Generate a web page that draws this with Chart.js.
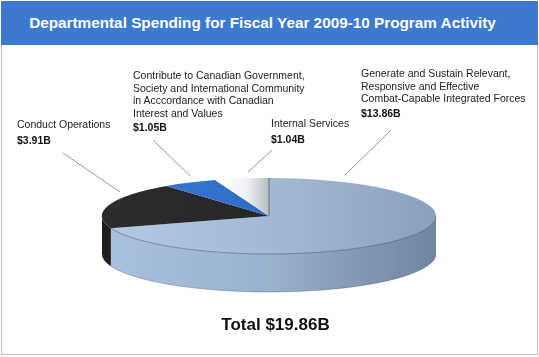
<!DOCTYPE html>
<html>
<head>
<meta charset="utf-8">
<script src="https://cdn.jsdelivr.net/npm/chart.js@4/dist/chart.umd.min.js"></script>
<style>
  html, body { margin: 0; padding: 0; background: #fff; }
  #wrap { position: relative; width: 539px; height: 357px; overflow: hidden; font-family: "Liberation Sans", Arial, Helvetica, sans-serif; }
  #frame { position: absolute; left: 1px; top: 1px; width: 535px; height: 353px; border: 1px solid #c4c4c4; border-top: none; }
  #title { position: absolute; left: 1px; top: 1px; width: 537px; height: 44px; background: #3d79cf; color: #fff; font-weight: bold; font-size: 15.3px; line-height: 44px; text-align: center; }
  #title span { position: relative; left: -7px; }
  canvas { position: absolute; left: 0; top: 0; }
  .lbl { position: absolute; font-size: 10.5px; line-height: 12.5px; color: #222; white-space: nowrap; }
  .val { position: absolute; font-size: 10.5px; font-weight: bold; color: #111; white-space: nowrap; }
  #total { position: absolute; left: 6px; width: 539px; top: 315px; text-align: center; font-size: 17px; font-weight: bold; color: #111; }
</style>
</head>
<body>
<div id="wrap">
  <div id="frame"></div>
  <div id="title"><span>Departmental Spending for Fiscal Year 2009-10 Program Activity</span></div>
  <canvas id="c" width="539" height="357"></canvas>
  <div id="labels"></div>
  <div id="total"></div>
</div>
<script>
// ---- data ----
const categories = [
  "Generate and Sustain Relevant,\nResponsive and Effective\nCombat-Capable Integrated Forces",
  "Conduct Operations",
  "Contribute to Canadian Government,\nSociety and International Community\nin Acccordance with Canadian\nInterest and Values",
  "Internal Services"
];
const spending = [13.86, 3.91, 1.05, 1.04];   // $ billions
const valueLabels = ["$13.86B", "$3.91B", "$1.05B", "$1.04B"];
const totalLabel = "Total $19.86B";

// label placement (layout only)
const labelPos = [
  {x: 361, y: 67, vy: 107},
  {x: 17,  y: 118, vy: 134},
  {x: 133, y: 69, vy: 121},
  {x: 271, y: 117, vy: 133}
];
const leaders = [
  [391, 130, 345, 175],
  [63, 153, 120, 192],
  [153, 140, 190, 176],
  [272, 150, 248, 172]
];

const labelsDiv = document.getElementById('labels');
categories.forEach((c, i) => {
  const d = document.createElement('div');
  d.className = 'lbl';
  d.style.left = labelPos[i].x + 'px';
  d.style.top = labelPos[i].y + 'px';
  d.innerHTML = c.split('\n').join('<br>');
  labelsDiv.appendChild(d);
  const v = document.createElement('div');
  v.className = 'val';
  v.style.left = labelPos[i].x + 'px';
  v.style.top = labelPos[i].vy + 'px';
  v.textContent = valueLabels[i];
  labelsDiv.appendChild(v);
});
document.getElementById('total').textContent = totalLabel;

// 3D look
const TARGET_CY = 216;   // centre of top face in page
const RY = 38;           // vertical radius of ellipse
const DEPTH = 38;

const topColors = [
  ['#b4c9e4', '#a3b9d6', '#8aa0bc'],
  ['#2c2c2c', '#262626', '#1f1f1f'],
  ['#3a79d3', '#2f6cc6', '#295fb2'],
  null
];
const sideColors = [
  ['#aac2e0', '#9ab1ce', '#6f849e'],
  ['#1e1e1e', '#1a1a1a', '#161616'],
  ['#2a5fb0', '#2a5fb0', '#2a5fb0'],
  ['#c9ccd2', '#c9ccd2', '#c9ccd2']
];

function hGrad(ctx, x0, x1, stops) {
  const g = ctx.createLinearGradient(x0, 0, x1, 0);
  g.addColorStop(0, stops[0]);
  g.addColorStop(0.5, stops[1]);
  g.addColorStop(1, stops[2]);
  return g;
}

const pie3d = {
  id: 'pie3d',
  beforeDatasetsDraw(chart) {
    const ctx = chart.ctx;
    const arcs = chart.getDatasetMeta(0).data;
    if (!arcs.length) return;
    const cx = arcs[0].x, cy0 = arcs[0].y, rx = arcs[0].outerRadius;
    const k = RY / rx;
    const cy = TARGET_CY;
    // side walls
    arcs.forEach((a, i) => {
      let s = Math.max(a.startAngle, 0), e = Math.min(a.endAngle, Math.PI);
      if (e <= s) return;
      ctx.save();
      ctx.beginPath();
      ctx.ellipse(cx, cy, rx, RY, 0, s, e, false);
      ctx.lineTo(cx + rx * Math.cos(e), cy + RY * Math.sin(e) + DEPTH);
      ctx.ellipse(cx, cy + DEPTH, rx, RY, 0, e, s, true);
      ctx.closePath();
      ctx.fillStyle = hGrad(ctx, cx - rx, cx + rx, sideColors[i]);
      ctx.fill();
      ctx.restore();
    });
    // bottom outline
    ctx.save();
    ctx.beginPath();
    ctx.ellipse(cx, cy + DEPTH, rx, RY, 0, 0, Math.PI, false);
    ctx.strokeStyle = 'rgba(80,95,115,0.5)';
    ctx.lineWidth = 0.8;
    ctx.stroke();
    ctx.restore();
    // transform for top face
    ctx.save();
    ctx.translate(0, cy);
    ctx.scale(1, k);
    ctx.translate(0, -cy0);
  },
  afterDatasetsDraw(chart) {
    const ctx = chart.ctx;
    const arcs = chart.getDatasetMeta(0).data;
    if (!arcs.length) return;
    ctx.restore();
    const cx = arcs[0].x, rx = arcs[0].outerRadius;
    const cy = TARGET_CY;
    // top face front rim
    ctx.save();
    ctx.beginPath();
    ctx.ellipse(cx, cy, rx, RY, 0, 0, Math.PI, false);
    ctx.strokeStyle = 'rgba(70,85,105,0.7)';
    ctx.lineWidth = 0.8;
    ctx.stroke();
    // vertical edge line at top (start of first slice)
    ctx.beginPath();
    ctx.moveTo(cx, cy);
    ctx.lineTo(cx, cy - RY);
    ctx.strokeStyle = 'rgba(90,90,100,0.8)';
    ctx.lineWidth = 1;
    ctx.stroke();
    // leader lines
    ctx.strokeStyle = '#8a8a8a';
    ctx.lineWidth = 0.9;
    leaders.forEach(l => {
      ctx.beginPath();
      ctx.moveTo(l[0], l[1]);
      ctx.lineTo(l[2], l[3]);
      ctx.stroke();
    });
    ctx.restore();
  }
};

new Chart(document.getElementById('c'), {
  type: 'pie',
  data: {
    labels: categories,
    datasets: [{
      data: spending,
      borderWidth: 0,
      backgroundColor: (context) => {
        const chart = context.chart;
        const area = chart.chartArea;
        const i = context.dataIndex;
        if (!area) return '#aac';
        const cx = (area.left + area.right) / 2;
        const r = (area.right - area.left) / 2;
        const ctx = chart.ctx;
        if (i === 3) {
          const g = ctx.createLinearGradient(cx - 45, 0, cx, 0);
          g.addColorStop(0, '#ffffff');
          g.addColorStop(0.5, '#eef0f3');
          g.addColorStop(1, '#b8bdc5');
          return g;
        }
        return hGrad(ctx, cx - r, cx + r, topColors[i]);
      }
    }]
  },
  options: {
    responsive: false,
    animation: false,
    events: [],
    layout: { padding: { left: 102, right: 103, top: 11, bottom: 12 } },
    plugins: { legend: { display: false }, tooltip: { enabled: false }, title: { display: false } }
  },
  plugins: [pie3d]
});
</script>
</body>
</html>
